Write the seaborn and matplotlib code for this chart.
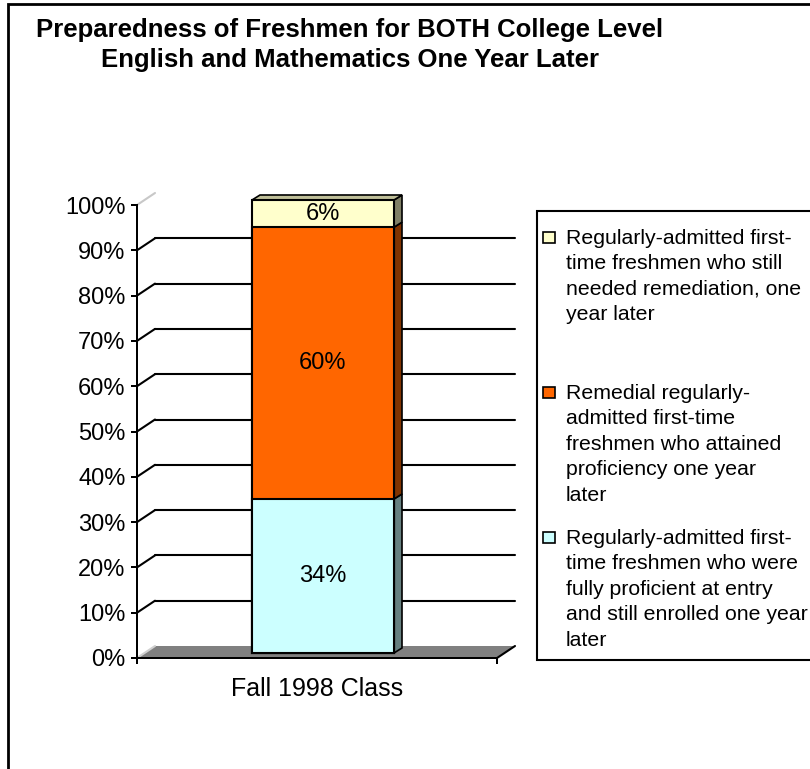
import numpy as np
import pandas as pd
import matplotlib
matplotlib.use("Agg")
import matplotlib.pyplot as plt
from matplotlib.patches import Polygon, Rectangle
from matplotlib.transforms import ScaledTranslation
import seaborn as sns

# ---- data -------------------------------------------------------------
categories = ["Fall 1998 Class"]
segment_names = [
    "Regularly-admitted first-time freshmen who were fully proficient at entry and still enrolled one year later",
    "Remedial regularly-admitted first-time freshmen who attained proficiency one year later",
    "Regularly-admitted first-time freshmen who still needed remediation, one year later",
]
segment_values = [34, 60, 6]          # bottom -> top, percent
yticks = list(range(0, 101, 10))
ytick_labels = [f"{v}%" for v in yticks]

legend_labels = [
    "Regularly-admitted first-\ntime freshmen who still\nneeded remediation, one\nyear later",
    "Remedial regularly-\nadmitted first-time\nfreshmen who attained\nproficiency one year\nlater",
    "Regularly-admitted first-\ntime freshmen who were\nfully proficient at entry\nand still enrolled one year\nlater",
]

# ---- styling ----------------------------------------------------------
front_colors = ["#CCFFFF", "#FF6600", "#FFFFCC"]
side_colors = ["#668080", "#803300", "#808066"]
top_color = "#BFBF99"
legend_colors = ["#FFFFCC", "#FF6600", "#CCFFFF"]

sns.set_theme(style="white")
plt.rcParams["font.family"] = ["Liberation Sans", "DejaVu Sans"]

W, H, DPI = 810, 769, 100
fig = plt.figure(figsize=(W / DPI, H / DPI), dpi=DPI)
fig.patch.set_facecolor("white")


def fx(px):
    return px / W


def fy(py):
    return 1 - py / H


# front plane of the plot walls
ax_l, ax_r, ax_top, ax_bot = 137, 497, 205, 658
ax = fig.add_axes([fx(ax_l), fy(ax_bot), (ax_r - ax_l) / W, (ax_bot - ax_top) / H])
ax.set_facecolor("none")

# pixel -> data unit conversions
px_x = 1.0 / (ax_r - ax_l)
px_y = 100.0 / (ax_bot - ax_top)

# depth of the back wall and of the bar
wall_dx, wall_dy = 18 * px_x, 12 * px_y
bar_dx, bar_dy = 8 * px_x, 5 * px_y
bar_shift = ScaledTranslation(6 / DPI, 5 / DPI, fig.dpi_scale_trans)
bar_trans = ax.transData + bar_shift

# floor
floor = Polygon([(-0.5, 0), (0.5, 0), (0.5 + wall_dx, wall_dy), (-0.5 + wall_dx, wall_dy)],
                closed=True, facecolor="#808080", edgecolor="none", zorder=1, clip_on=False)
ax.add_patch(floor)
ax.plot([0.5, 0.5 + wall_dx], [0, wall_dy], color="black", lw=1.5, zorder=2, clip_on=False)
ax.plot([-0.5, -0.5 + wall_dx], [0, wall_dy], color="#d0d0d0", lw=1.5, zorder=2, clip_on=False)

# gridlines on the back and side walls
for v in yticks[1:-1]:
    ax.plot([-0.5 + wall_dx, 0.5 + wall_dx], [v + wall_dy, v + wall_dy],
            color="black", lw=1.5, zorder=2, clip_on=False)
    ax.plot([-0.5, -0.5 + wall_dx], [v, v + wall_dy],
            color="black", lw=1.5, zorder=2, clip_on=False)
ax.plot([-0.5, -0.5 + wall_dx], [100, 100 + wall_dy], color="#c8c8c8", lw=1.5,
        zorder=2, clip_on=False)

# stacked bar: draw cumulative totals from the top segment down
cum = np.cumsum(segment_values)
bar_width = 142 * px_x
for i in reversed(range(len(segment_values))):
    df = pd.DataFrame({"cls": categories, "total": [cum[i]]})
    n_before = len(ax.patches)
    sns.barplot(data=df, x="cls", y="total", color=front_colors[i], saturation=1,
                width=bar_width, edgecolor="black", linewidth=1.5, ax=ax, zorder=4)
    for p in ax.patches[n_before:]:
        p.set_transform(bar_trans)
        p.set_clip_on(False)

bar_patch = ax.patches[-1]
xl = bar_patch.get_x()
xr = xl + bar_patch.get_width()

# side faces and top face of the bar
lows = np.concatenate([[0], cum[:-1]])
for lo, hi, c in zip(lows, cum, side_colors):
    side = Polygon([(xr, lo), (xr + bar_dx, lo + bar_dy), (xr + bar_dx, hi + bar_dy), (xr, hi)],
                   closed=True, facecolor=c, edgecolor="black", lw=1.2, zorder=3,
                   transform=bar_trans, clip_on=False)
    ax.add_patch(side)
top = Polygon([(xl, cum[-1]), (xr, cum[-1]), (xr + bar_dx, cum[-1] + bar_dy), (xl + bar_dx, cum[-1] + bar_dy)],
              closed=True, facecolor=top_color, edgecolor="black", lw=1.2, zorder=3,
              transform=bar_trans, clip_on=False)
ax.add_patch(top)

# value labels in each segment
xc = (xl + xr) / 2
for lo, val in zip(lows, segment_values):
    ax.text(xc, lo + val / 2, f"{val}%", ha="center", va="center", fontsize=17,
            color="black", transform=bar_trans, zorder=6)

# axes
ax.set_xlim(-0.5, 0.5)
ax.set_ylim(0, 100)
ax.set_yticks(yticks)
ax.set_yticklabels(ytick_labels, fontsize=17, color="black")
ax.set_xticks([0])
ax.set_xticklabels(categories, fontsize=18, color="black")
ax.set_xticks([-0.5, 0.5], minor=True)
ax.tick_params(axis="y", which="major", direction="out", length=4.3, width=1.44,
               color="black", pad=4, left=True)
ax.tick_params(axis="x", which="major", length=0, pad=14)
ax.tick_params(axis="x", which="minor", direction="out", length=4.3, width=1.44,
               color="black", bottom=True)
ax.set_xlabel("")
ax.set_ylabel("")
for s in ["top", "right"]:
    ax.spines[s].set_visible(False)
for s in ["left", "bottom"]:
    ax.spines[s].set_visible(True)
    ax.spines[s].set_color("black")
    ax.spines[s].set_linewidth(1.44)
    ax.spines[s].set_zorder(5)
ax.grid(False)

# title, both lines centred on a common axis
fig.text(fx(350), fy(30), "Preparedness of Freshmen for BOTH College Level",
         ha="center", va="center", fontsize=18.5, fontweight="bold", color="black")
fig.text(fx(350), fy(60), "English and Mathematics One Year Later",
         ha="center", va="center", fontsize=18.5, fontweight="bold", color="black")

# legend panel
fig.add_artist(Rectangle((fx(537), fy(660)), fx(830 - 537), (660 - 211) / H,
                         transform=fig.transFigure, facecolor="white",
                         edgecolor="black", lw=1.5, zorder=1))
entry_centers = [237, 392, 537]
for lab, col, yc in zip(legend_labels, legend_colors, entry_centers):
    fig.add_artist(Rectangle((fx(543), fy(yc + 6)), 12 / W, 11 / H,
                             transform=fig.transFigure, facecolor=col,
                             edgecolor="black", lw=1.2, zorder=2))
    fig.text(fx(566), fy(yc - 8), lab, ha="left", va="top", fontsize=15.3,
             linespacing=1.43, color="black", zorder=3)

# outer frame
fig.add_artist(Rectangle((fx(8), fy(900)), fx(1000), (900 - 4) / H,
                         transform=fig.transFigure, facecolor="none",
                         edgecolor="black", lw=2, zorder=0))

fig.savefig("out.png", dpi=DPI)
